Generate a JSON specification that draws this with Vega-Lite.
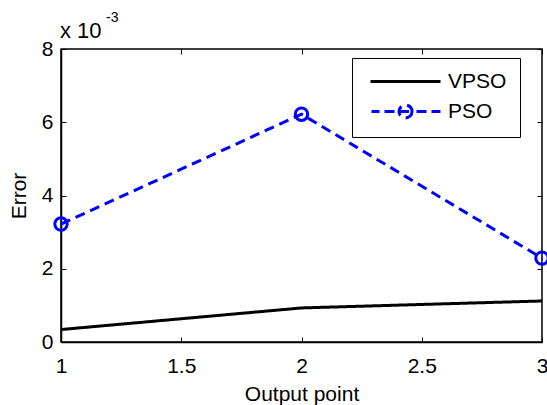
{
  "$schema": "https://vega.github.io/schema/vega-lite/v6.json",
  "width": 481,
  "height": 293,
  "autosize": {"type": "none"},
  "padding": {"left": 61, "top": 49, "right": 5, "bottom": 63},
  "background": "white",
  "config": {
    "font": "Liberation Sans",
    "view": {"stroke": "black", "strokeWidth": 1.5},
    "axis": {
      "grid": false,
      "domainColor": "black",
      "domainWidth": 1.5,
      "tickColor": "black",
      "tickWidth": 1,
      "tickSize": -5,
      "labelColor": "black",
      "labelFontSize": 21,
      "labelFont": "Liberation Sans",
      "titleFont": "Liberation Sans",
      "titleFontSize": 21,
      "titleFontWeight": "normal",
      "titleColor": "black"
    }
  },
  "data": {
    "values": [
      {"series": "VPSO", "x": 1, "y": 0.34},
      {"series": "VPSO", "x": 2, "y": 0.93},
      {"series": "VPSO", "x": 3, "y": 1.12},
      {"series": "PSO", "x": 1, "y": 3.22},
      {"series": "PSO", "x": 2, "y": 6.22},
      {"series": "PSO", "x": 3, "y": 2.29}
    ]
  },
  "layer": [
    {
      "mark": {"type": "line", "strokeWidth": 3},
      "encoding": {
        "x": {
          "field": "x", "type": "quantitative",
          "scale": {"domain": [1, 3], "nice": false, "zero": false},
          "axis": {"orient": "bottom", "values": [1, 1.5, 2, 2.5, 3], "format": "~g", "title": "Output point", "labelPadding": 18, "titlePadding": 7, "labelFlush": false}
        },
        "y": {
          "field": "y", "type": "quantitative",
          "scale": {"domain": [0, 8], "nice": false},
          "axis": {"orient": "left", "values": [0, 2, 4, 6, 8], "format": "~g", "title": "Error", "labelPadding": 13, "titlePadding": 12}
        },
        "color": {
          "field": "series", "type": "nominal",
          "scale": {"domain": ["VPSO", "PSO"], "range": ["black", "#0000ff"]},
          "legend": {
            "title": null,
            "orient": "none",
            "legendX": 291,
            "legendY": 9,
            "strokeColor": "black",
            "fillColor": "white",
            "padding": 13,
            "labelFontSize": 21,
            "labelFont": "Liberation Sans",
            "labelColor": "black",
            "symbolSize": 100,
            "symbolStrokeWidth": 3,
            "symbolOffset": 30,
            "labelOffset": 32,
            "rowPadding": 7,
            "encode": {
              "symbols": {
                "update": {
                  "shape": {"signal": "datum.value === 'PSO' ? 'M-6.8,0H-5.2M-4.2,0H-2.2M-1.3,0H1.3M2.2,0H4.2M5.2,0H7M1.3,0C1.3,0.718 0.718,1.3 0,1.3C-0.718,1.3 -1.3,0.718 -1.3,0C-1.3,-0.718 -0.718,-1.3 0,-1.3C0.718,-1.3 1.3,-0.718 1.3,0Z' : 'M-7,0H7'"},
                  "strokeDash": {"value": []},
                  "fill": {"value": "transparent"}
                }
              }
            }
          }
        },
        "strokeDash": {
          "field": "series", "type": "nominal",
          "scale": {"domain": ["VPSO", "PSO"], "range": [[1, 0], [10, 6]]},
          "legend": null
        }
      }
    },
    {
      "transform": [{"filter": "datum.series === 'PSO'"}],
      "mark": {"type": "point", "shape": "circle", "filled": false, "size": 154, "strokeWidth": 3, "color": "#0000ff", "opacity": 1},
      "encoding": {
        "x": {"field": "x", "type": "quantitative", "axis": {"orient": "top", "labels": false, "domain": false, "title": null, "values": [1, 1.5, 2, 2.5, 3]}},
        "y": {"field": "y", "type": "quantitative", "axis": {"orient": "right", "labels": false, "domain": false, "title": null, "values": [0, 2, 4, 6, 8]}}
      }
    },
    {
      "data": {"values": [{"x": 1, "y": 8, "label": "x 10", "exp": "-3"}]},
      "layer": [
        {
          "mark": {"type": "text", "align": "left", "baseline": "alphabetic", "fontSize": 22, "font": "Liberation Sans", "color": "black", "dx": -1, "dy": -11},
          "encoding": {
            "x": {"field": "x", "type": "quantitative", "axis": null},
            "y": {"field": "y", "type": "quantitative", "axis": null},
            "text": {"field": "label"}
          }
        },
        {
          "mark": {"type": "text", "align": "left", "baseline": "alphabetic", "fontSize": 14, "font": "Liberation Sans", "color": "black", "dx": 45, "dy": -27},
          "encoding": {
            "x": {"field": "x", "type": "quantitative", "axis": null},
            "y": {"field": "y", "type": "quantitative", "axis": null},
            "text": {"field": "exp"}
          }
        }
      ]
    }
  ],
  "resolve": {"axis": {"x": "independent", "y": "independent"}}
}
